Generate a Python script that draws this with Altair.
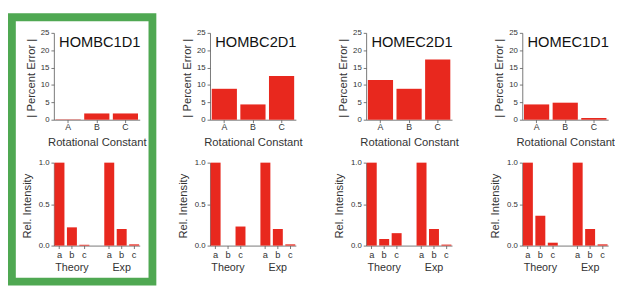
import altair as alt
import pandas as pd

# ---------------- data ----------------
panels = ["HOMBC1D1", "HOMBC2D1", "HOMEC2D1", "HOMEC1D1"]
constants = ["A", "B", "C"]
pct_error = [
    [0.1, 1.8, 1.8],
    [8.9, 4.4, 12.6],
    [11.4, 8.9, 17.3],
    [4.4, 4.9, 0.5],
]
transitions = ["a", "b", "c"]
groups = ["Theory", "Exp"]
theory_int = [
    [1.0, 0.22, 0.01],
    [1.0, 0.0, 0.23],
    [1.0, 0.08, 0.15],
    [1.0, 0.36, 0.035],
]
exp_int = [
    [1.0, 0.20, 0.015],
    [1.0, 0.20, 0.015],
    [1.0, 0.20, 0.012],
    [1.0, 0.20, 0.015],
]
err_ticks = [0, 5, 10, 15, 20, 25]
int_ticks = [0.0, 0.5, 1.0]
slots = ["Ta", "Tb", "Tc", "gap", "Ea", "Eb", "Ec"]
group_slots = ["Tb", "Eb"]

# ---------------- style ----------------
RED = "#e8281e"
GREEN = "#4fa852"
TXT = "#333333"
FONT = "Liberation Sans"
W = 88
H_TOP = 89
H_BOT = 85


def top_chart(i):
    df = pd.DataFrame({"const": constants, "err": pct_error[i]})
    bars = alt.Chart(df).mark_bar(color=RED).encode(
        x=alt.X(
            "const:N",
            scale=alt.Scale(domain=constants, paddingInner=0.12, paddingOuter=0.06),
            axis=alt.Axis(
                title="Rotational Constant", labelAngle=0, labelFontSize=9,
                labelBaseline="middle", labelPadding=4, tickSize=3,
                titleY=23, titleBaseline="middle", titleFontSize=11.5,
            ),
        ),
        y=alt.Y(
            "err:Q",
            scale=alt.Scale(domain=[0, 25], nice=False),
            axis=alt.Axis(
                title="| Percent Error |", values=err_ticks, format="d",
                labelFontSize=8, labelPadding=2, tickSize=3,
                titleX=-23, titleY=46, titleAngle=270, titleAlign="center",
                titleBaseline="middle", titleFontSize=11.5,
            ),
        ),
    )
    name = alt.Chart(pd.DataFrame({"name": [panels[i]]})).mark_text(
        fontSize=15, font=FONT, color="#111111", baseline="middle", align="center"
    ).encode(text="name:N", x=alt.value(47), y=alt.value(9))
    layers = [bars, name]
    if i == 0:
        frame = alt.Chart(pd.DataFrame({"f": [1]})).mark_rect(
            filled=False, stroke=GREEN, strokeWidth=8
        ).encode(
            x=alt.value(-43), x2=alt.value(101),
            y=alt.value(-16), y2=alt.value(255),
        )
        layers.append(frame)
    return alt.layer(*layers).properties(width=W, height=H_TOP)


def bottom_chart(i):
    rows = []
    for g, vals in ((groups[0], theory_int[i]), (groups[1], exp_int[i])):
        for t, v in zip(transitions, vals):
            rows.append({"slot": g[0] + t, "val": v})
    df = pd.DataFrame(rows)
    xscale = alt.Scale(domain=slots, paddingInner=0.2, paddingOuter=0.05)
    bars = alt.Chart(df).mark_bar(color=RED).encode(
        x=alt.X(
            "slot:N", scale=xscale,
            axis=alt.Axis(
                title=None, values=[s for s in slots if s != "gap"],
                labelExpr="substring(datum.label, 1)", labelAngle=0,
                labelFontSize=9.5, labelBaseline="middle", labelPadding=6,
                tickSize=3,
            ),
        ),
        y=alt.Y(
            "val:Q",
            scale=alt.Scale(domain=[0, 1], nice=False),
            axis=alt.Axis(
                title="Rel. Intensity", values=int_ticks, format=".1f",
                labelFontSize=8, labelPadding=2, tickSize=3,
                titleX=-27, titleY=44, titleAngle=270, titleAlign="center",
                titleBaseline="middle", titleFontSize=11.5,
            ),
        ),
    )
    gdf = pd.DataFrame({"slot": group_slots, "group": groups})
    glab = alt.Chart(gdf).mark_text(
        fontSize=11, font=FONT, color=TXT, baseline="middle", align="center"
    ).encode(
        x=alt.X("slot:N", scale=xscale),
        y=alt.value(H_BOT + 23),
        text="group:N",
    )
    return alt.layer(bars, glab).properties(width=W, height=H_BOT)


charts = [top_chart(i) for i in range(4)] + [bottom_chart(i) for i in range(4)]

chart = alt.concat(
    *charts, columns=4, spacing={"row": 44, "column": 72}, bounds="flush"
).configure_axis(
    grid=False,
    labelFont=FONT, titleFont=FONT,
    labelColor=TXT, titleColor=TXT,
    domainColor="#555555", tickColor="#555555",
    domainWidth=0.8, tickWidth=0.8,
    titleFontWeight="normal",
).configure_view(
    strokeWidth=0
).properties(
    padding={"left": 0, "top": 2, "right": 0, "bottom": 0},
    background="white",
)

chart.save("out.html", embed_options={"renderer": "svg", "actions": False})
